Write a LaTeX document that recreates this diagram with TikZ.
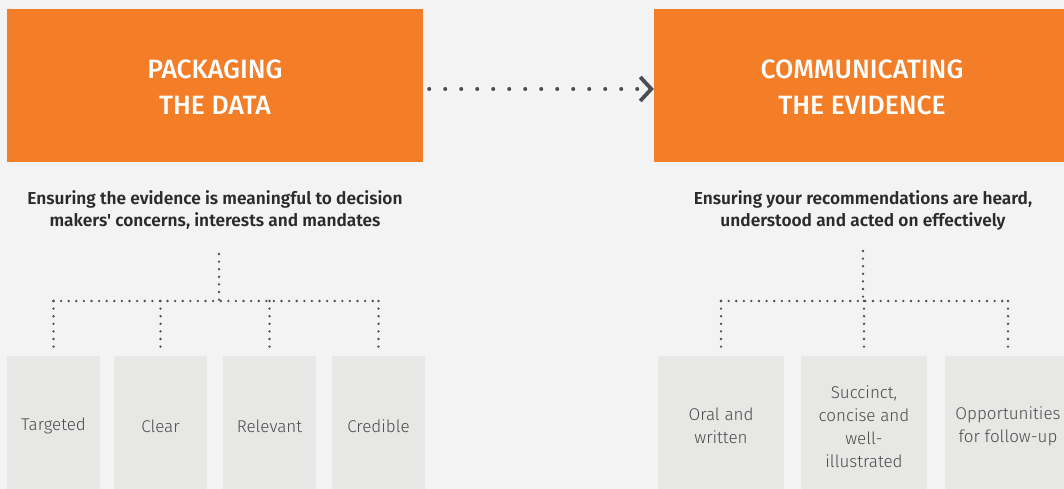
\documentclass[tikz,border=0pt]{standalone}
\usepackage{fontspec}
\setmainfont{Fira Sans}
\newfontfamily\firalight{Fira Sans Light}
\newfontfamily\firamedium{Fira Sans Medium}
\newfontfamily\firasemi{Fira Sans SemiBold}
\usetikzlibrary{arrows.meta,positioning}

\definecolor{evorange}{HTML}{F47D27}
\definecolor{evback}{HTML}{F3F3F3}
\definecolor{evbox}{HTML}{E7E8E6}
\definecolor{evdot}{HTML}{494D57}
\definecolor{evtext}{HTML}{2B2B2B}
\definecolor{evgrey}{HTML}{4A4A4A}

\begin{document}
\begin{tikzpicture}[x=1pt,y=-1pt,
            title node/.style={fill=evorange,minimum width=416pt,minimum height=153pt},
            title text/.style={text=white,align=center,yshift=-2pt,
                font=\firamedium\fontsize{26.5}{36}\selectfont},
            sub node/.style={text=evtext,align=center,font=\firasemi\fontsize{17.3}{22}\selectfont},
            item node/.style={fill=evbox,text=evgrey,minimum width=93pt,minimum height=140pt,anchor=north,
                align=center,font=\firalight\fontsize{17}{23}\selectfont},
            wide item/.style={item node,minimum width=126pt},
            dotline/.style={evdot,line width=2.6pt,line cap=round,dash pattern=on 0pt off 7.6pt},
            arrowline/.style={evdot,line width=4pt,line cap=round,dash pattern=on 0pt off 16pt,
                -{Straight Barb[length=11pt,width=24pt,line width=3.8pt]}}]

        % Background
        \useasboundingbox[fill=evback] (0,0) rectangle (1064,489);

        % Define main boxes
        \node[title node,label={[title text]center:PACKAGING\\THE DATA}] (pack) at (215,85.5) {};
        \node[title node,label={[title text]center:COMMUNICATING\\THE EVIDENCE}] (comm) at (862,85.5) {};

        % Define subtitles
        \node[sub node] (packsub) at (215,210) {Ensuring the evidence is meaningful to decision\\makers' concerns, interests and mandates};
        \node[sub node] (commsub) at (863,210) {Ensuring your recommendations are heard,\\understood and acted on effectively};

        % Define items
        \node[item node] (t1) at (53.5,356) {Targeted};
        \node[item node] (t2) at (160.5,356) {Clear};
        \node[item node] (t3) at (269.5,356) {Relevant};
        \node[item node] (t4) at (378.5,356) {Credible};
        \node[wide item] (o1) at (721,356) {Oral and\\written};
        \node[wide item] (o2) at (864,356) {Succinct,\\concise and\\well-\\illustrated};
        \node[wide item] (o3) at (1008,356) {Opportunities\\for follow-up};

        % Tree joints
        \coordinate (ltop) at (219,254);
        \coordinate (lbar) at (219,301);
        \coordinate (rtop) at (863,251);
        \coordinate (rbar) at (863,301);

        % Draw edges
        \draw[arrowline] ([xshift=6pt,yshift=-3.5pt]pack.east) -- ([yshift=-3.5pt]comm.west);

        \draw[dotline] (ltop) -- (lbar);
        \draw[dotline] (t1.north |- lbar) -- (t4.north |- lbar);
        \foreach \i in {1,...,4}
            \draw[dotline] (t\i.north |- lbar) -- ([yshift=3pt]t\i.north);

        \draw[dotline] (rtop) -- (rbar);
        \draw[dotline] (o1.north |- rbar) -- (o3.north |- rbar);
        \foreach \i in {1,2,3}
            \draw[dotline] (o\i.north |- rbar) -- ([yshift=3pt]o\i.north);

\end{tikzpicture}
\end{document}
